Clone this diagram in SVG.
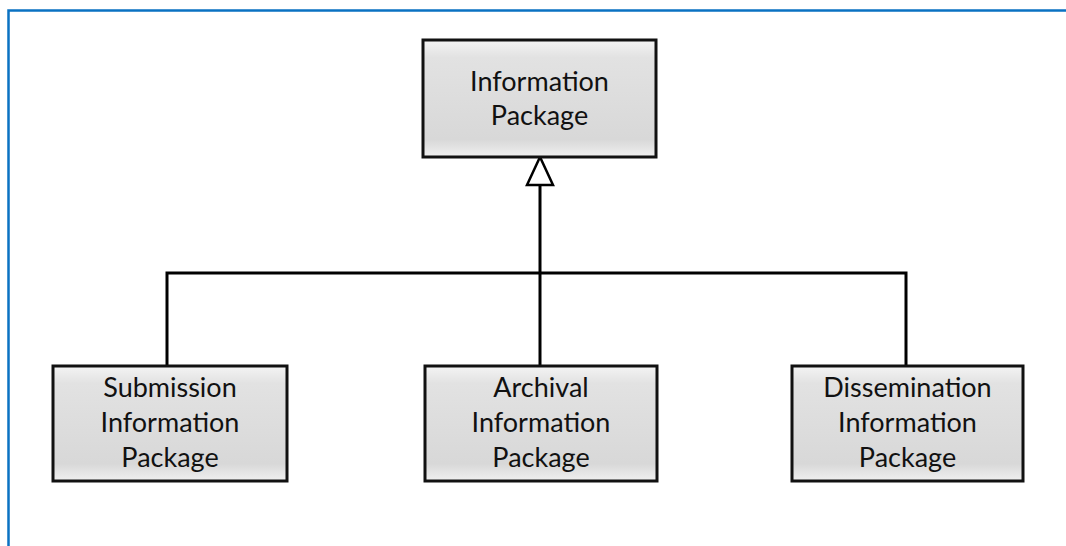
<svg xmlns="http://www.w3.org/2000/svg" width="1066" height="546" viewBox="0 0 1066 546">
<defs>
<linearGradient id="g" x1="0" y1="0" x2="0" y2="1">
<stop offset="0" stop-color="#f4f4f4"/>
<stop offset="0.15" stop-color="#e2e2e2"/>
<stop offset="0.85" stop-color="#d8d8d8"/>
<stop offset="1" stop-color="#f0f0f0"/>
</linearGradient>
<style>
.box{fill:url(#g);stroke:#111;stroke-width:3}
.t{font-family:Lato,"Liberation Sans",sans-serif;font-size:27px;fill:#111;text-anchor:middle}
.c{fill:none;stroke:#000;stroke-width:3}
</style>
</defs>
<rect width="1066" height="546" fill="#fff"/>
<path d="M8.5 546 V10.5 H1066" fill="none" stroke="#0a72c2" stroke-width="2.5"/>
<g id="connectors">
<path class="c" d="M167 365 V273 H906 V365"/>
<path class="c" d="M540 365 V185"/>
<polygon points="540,157 527,185 553,185" fill="#fff" stroke="#000" stroke-width="2.5"/>
</g>
<g id="information-package">
<rect class="box" x="423" y="40" width="233" height="117"/>
<text class="t" x="539.5" y="91">Information</text>
<text class="t" x="539.5" y="125">Package</text>
</g>
<g id="sip">
<rect class="box" x="53" y="366" width="234" height="115"/>
<text class="t" x="170" y="397">Submission</text>
<text class="t" x="170" y="432">Information</text>
<text class="t" x="170" y="467">Package</text>
</g>
<g id="aip">
<rect class="box" x="425" y="366" width="232" height="115"/>
<text class="t" x="541" y="397">Archival</text>
<text class="t" x="541" y="432">Information</text>
<text class="t" x="541" y="467">Package</text>
</g>
<g id="dip">
<rect class="box" x="792" y="366" width="231" height="115"/>
<text class="t" x="907.5" y="397">Dissemination</text>
<text class="t" x="907.5" y="432">Information</text>
<text class="t" x="907.5" y="467">Package</text>
</g>
</svg>
